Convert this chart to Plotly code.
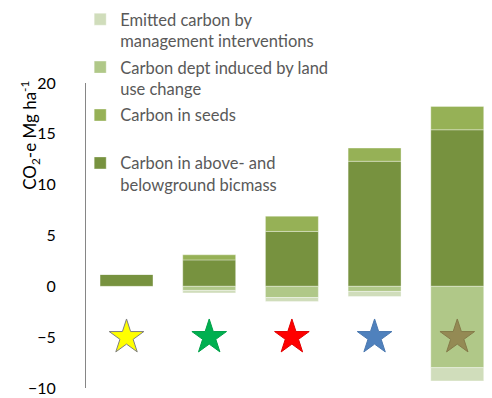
import plotly.graph_objects as go

# Land-use scenarios, left to right
scenarios = ["S1", "S2", "S3", "S4", "S5"]

# Carbon pools, CO2-e Mg ha-1
biomass = [1.2, 2.6, 5.4, 12.3, 15.4]       # above- and belowground biomass
seeds = [0.0, 0.5, 1.5, 1.3, 2.3]           # carbon in seeds
carbon_debt = [0.0, -0.4, -1.1, -0.5, -8.0]  # carbon debt from land use change
emitted = [0.0, -0.25, -0.4, -0.5, -1.3]     # emissions from management

# Scenario markers drawn below the bars
marker_level = [-5, -5, -5, -5, -5]
star_colors = ["#ffff00", "#00b050", "#ff0000", "#4f81bd", "#948a54"]
star_edges = ["#7f7f7f", "#00a048", "#e00000", "#4a78b0", "#857b4a"]

tick_vals = [-10, -5, 0, 5, 10, 15, 20]

FONT = "Lato, 'Open Sans', sans-serif"
edge = dict(color="rgba(255,255,255,0.35)", width=1)

fig = go.Figure()
fig.add_bar(x=scenarios, y=biomass, name="Carbon in above- and<br>belowground bicmass",
            legendgroup="g1", legendrank=4, marker=dict(color="#77923f", line=edge))
fig.add_bar(x=scenarios, y=seeds, name="Carbon in seeds<br> ",
            legendgroup="g2", legendrank=3, marker=dict(color="#96b156", line=edge))
fig.add_bar(x=scenarios, y=carbon_debt, name="Carbon dept induced by land<br>use change",
            legendgroup="g3", legendrank=2, marker=dict(color="#b0c888", line=edge))
fig.add_bar(x=scenarios, y=emitted, name="Emitted carbon by<br>management interventions",
            legendgroup="g4", legendrank=1, marker=dict(color="#d0ddbb", line=edge))

fig.add_scatter(x=scenarios, y=marker_level, mode="markers", showlegend=False,
                hoverinfo="skip",
                marker=dict(symbol="star", size=26, color=star_colors,
                            line=dict(color=star_edges, width=1)))

fig.update_layout(
    width=492, height=398,
    margin=dict(l=86, r=0, t=83, b=10, autoexpand=False),
    paper_bgcolor="white", plot_bgcolor="white",
    barmode="relative", bargap=0.36,
    font=dict(family=FONT, size=15, color="#000000"),
    legend=dict(
        xref="container", yref="container",
        x=0.163, y=0.995, xanchor="left", yanchor="top",
        traceorder="grouped", valign="top", maxheight=390,
        font=dict(family=FONT, size=16.5, color="#595959"),
        bgcolor="rgba(0,0,0,0)", tracegroupgap=2,
    ),
    xaxis=dict(
        range=[-0.49, 4.42], showticklabels=False, showgrid=False,
        zeroline=False, showline=False, ticks="",
    ),
    yaxis=dict(
        range=[-10, 20], tickvals=tick_vals, showgrid=False, zeroline=False,
        showline=True, linecolor="#868686", linewidth=1, ticks="",
        ticklabelstandoff=26,
        tickfont=dict(family=FONT, size=16, color="#000000"),
    ),
    annotations=[dict(
        text="CO<sub>2</sub>-e Mg ha<sup>-1</sup>",
        xref="paper", yref="paper", x=-0.138, y=0.83,
        xanchor="center", yanchor="middle", textangle=-90, showarrow=False,
        font=dict(family=FONT, size=17, color="#000000"),
    )],
)

fig.write_html("out.html")
